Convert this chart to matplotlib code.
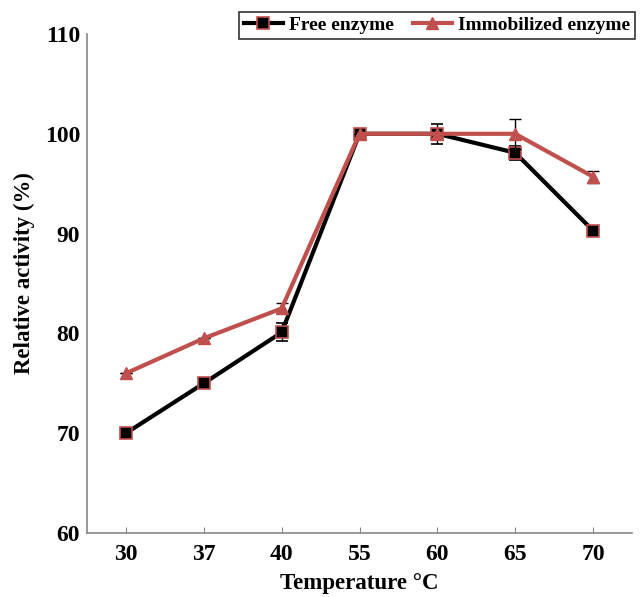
import matplotlib
matplotlib.use("Agg")
import matplotlib.pyplot as plt
from matplotlib.lines import Line2D
import numpy as np

temps = ["30", "37", "40", "55", "60", "65", "70"]
free = [70.0, 75.0, 80.1, 100.0, 100.0, 98.1, 90.3]
free_err = [0.0, 0.0, 0.9, 0.0, 1.0, 0.7, 0.4]
immob = [76.0, 79.5, 82.5, 100.0, 100.0, 100.0, 95.7]
immob_err = [0.0, 0.0, 0.5, 0.0, 0.0, 1.5, 0.6]

red = "#C0504D"
plt.rcParams['font.family'] = ['Liberation Serif', 'DejaVu Serif']
plt.rcParams['font.weight'] = 'bold'

fig = plt.figure(figsize=(6.4, 5.97), dpi=100)
ax = fig.add_axes([87/640, 1-533/597, (632-87)/640, (533-34)/597])

x = np.arange(len(temps))
free_style = dict(color='black', lw=3, marker='s', ms=8, mfc='black', mec=red, mew=1.2)
immob_style = dict(color=red, lw=3, marker='^', ms=9, mfc=red, mec=red)
ax.errorbar(x, free, yerr=free_err, ecolor='black', elinewidth=1,
            capsize=4, capthick=1, zorder=3, **free_style)
ax.errorbar(x, immob, yerr=immob_err, ecolor='black', elinewidth=1,
            capsize=4, capthick=1, zorder=4, **immob_style)

ax.set_xlim(-0.5, len(temps) - 0.5)
ax.set_ylim(60, 110)
ax.set_yticks([60, 70, 80, 90, 100, 110])
ax.set_xticks(x)
ax.set_xticklabels(temps)
ax.tick_params(axis='y', length=0, labelsize=17, pad=5)
ax.tick_params(axis='x', direction='in', length=4, color='#888888', labelsize=17, pad=8)
for s in ['top', 'right']:
    ax.spines[s].set_visible(False)
for s in ['left', 'bottom']:
    ax.spines[s].set_color('#888888')
    ax.spines[s].set_linewidth(1.2)

ax.set_xlabel('Temperature °C', fontsize=16.5, fontweight='bold', labelpad=6)
ax.set_ylabel('Relative activity (%)', fontsize=16.5, fontweight='bold')
ax.yaxis.set_label_coords(-0.096, 0.52)

handles = [Line2D([], [], **free_style), Line2D([], [], **immob_style)]
leg = ax.legend(handles, ['Free enzyme', 'Immobilized enzyme'],
                loc='lower right', bbox_to_anchor=(1.005, 0.99), ncol=2,
                frameon=True, fancybox=False, handlelength=2.0,
                handletextpad=0.3, columnspacing=1.0, borderpad=0.25,
                borderaxespad=0.0, prop={'weight': 'bold', 'size': 14})
leg.get_frame().set_edgecolor('black')
leg.get_frame().set_linewidth(1.2)

fig.savefig('out.png', dpi=100)
